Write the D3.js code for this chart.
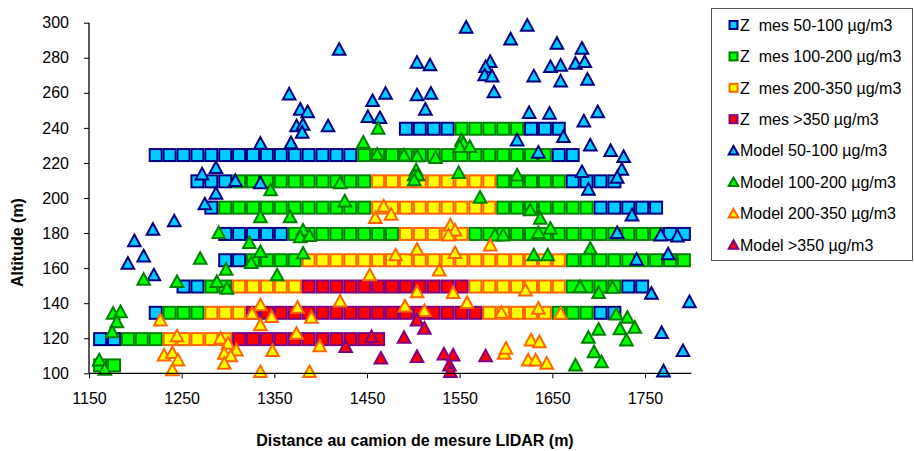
<!DOCTYPE html>
<html><head><meta charset="utf-8">
<script src="https://cdn.jsdelivr.net/npm/d3@7/dist/d3.min.js"></script>
<style>
html,body{margin:0;padding:0;background:#fff;}
svg{display:block;font-family:"Liberation Sans",Arial,sans-serif;}
text{white-space:pre;}
</style></head>
<body><svg id="c" width="914" height="451"></svg>
<script>
// ---- data ----
const xTicks = [1150,1250,1350,1450,1550,1650,1750];
const yTicks = [100,120,140,160,180,200,220,240,260,280,300];

// Measured LIDAR cells [distance, altitude]
const mes50_100 = [
 [1492,239.5],[1507,239.5],[1522,239.5],[1537,239.5],[1627,239.5],[1642,239.5],[1657,239.5],
 [1222,224.5],[1237,224.5],[1252,224.5],[1267,224.5],[1282,224.5],[1297,224.5],[1312,224.5],[1327,224.5],[1342,224.5],[1357,224.5],[1372,224.5],[1387,224.5],[1402,224.5],[1417,224.5],[1432,224.5],[1657,224.5],[1672,224.5],
 [1267,209.5],[1282,209.5],[1297,209.5],[1672,209.5],[1687,209.5],[1702,209.5],[1717,209.5],
 [1282,194.5],[1702,194.5],[1717,194.5],[1732,194.5],[1747,194.5],[1762,194.5],
 [1297,179.5],[1312,179.5],[1327,179.5],[1342,179.5],[1357,179.5],[1777,179.5],[1792,179.5],
 [1297,164.5],[1312,164.5],
 [1252,149.5],[1267,149.5],[1732,149.5],[1747,149.5],
 [1222,134.5],[1702,134.5],[1717,134.5],
 [1162,119.5],[1177,119.5]
];
const mes100_200 = [
 [1552,239.5],[1567,239.5],[1582,239.5],[1597,239.5],[1612,239.5],
 [1447,224.5],[1462,224.5],[1477,224.5],[1492,224.5],[1507,224.5],[1522,224.5],[1537,224.5],[1552,224.5],[1567,224.5],[1582,224.5],[1597,224.5],[1612,224.5],[1627,224.5],[1642,224.5],
 [1312,209.5],[1327,209.5],[1342,209.5],[1357,209.5],[1372,209.5],[1387,209.5],[1402,209.5],[1417,209.5],[1432,209.5],[1447,209.5],[1597,209.5],[1612,209.5],[1627,209.5],[1642,209.5],[1657,209.5],
 [1297,194.5],[1312,194.5],[1327,194.5],[1342,194.5],[1357,194.5],[1372,194.5],[1387,194.5],[1402,194.5],[1417,194.5],[1432,194.5],[1447,194.5],[1597,194.5],[1612,194.5],[1627,194.5],[1642,194.5],[1657,194.5],[1672,194.5],[1687,194.5],
 [1372,179.5],[1387,179.5],[1402,179.5],[1417,179.5],[1432,179.5],[1447,179.5],[1462,179.5],[1477,179.5],[1567,179.5],[1582,179.5],[1597,179.5],[1612,179.5],[1627,179.5],[1642,179.5],[1657,179.5],[1672,179.5],[1687,179.5],[1702,179.5],[1717,179.5],[1732,179.5],[1747,179.5],[1762,179.5],
 [1327,164.5],[1342,164.5],[1357,164.5],[1372,164.5],[1672,164.5],[1687,164.5],[1702,164.5],[1717,164.5],[1732,164.5],[1747,164.5],[1762,164.5],[1777,164.5],[1792,164.5],
 [1282,149.5],[1297,149.5],[1672,149.5],[1687,149.5],[1702,149.5],[1717,149.5],
 [1237,134.5],[1252,134.5],[1267,134.5],[1657,134.5],[1672,134.5],[1687,134.5],
 [1192,119.5],[1207,119.5],[1222,119.5],
 [1162,104.5],[1177,104.5]
];
const mes200_350 = [
 [1462,209.5],[1477,209.5],[1492,209.5],[1507,209.5],[1522,209.5],[1537,209.5],[1552,209.5],[1567,209.5],[1582,209.5],
 [1462,194.5],[1477,194.5],[1492,194.5],[1507,194.5],[1522,194.5],[1537,194.5],[1552,194.5],[1567,194.5],[1582,194.5],
 [1492,179.5],[1507,179.5],[1522,179.5],[1537,179.5],[1552,179.5],
 [1387,164.5],[1402,164.5],[1417,164.5],[1432,164.5],[1447,164.5],[1462,164.5],[1477,164.5],[1492,164.5],[1507,164.5],[1522,164.5],[1537,164.5],[1552,164.5],[1567,164.5],[1582,164.5],[1597,164.5],[1612,164.5],[1627,164.5],[1642,164.5],[1657,164.5],
 [1312,149.5],[1327,149.5],[1342,149.5],[1357,149.5],[1372,149.5],[1567,149.5],[1582,149.5],[1597,149.5],[1612,149.5],[1627,149.5],[1642,149.5],[1657,149.5],
 [1282,134.5],[1297,134.5],[1312,134.5],[1582,134.5],[1597,134.5],[1612,134.5],[1627,134.5],[1642,134.5],
 [1237,119.5],[1252,119.5],[1267,119.5],[1282,119.5],[1297,119.5]
];
const mesOver350 = [
 [1387,149.5],[1402,149.5],[1417,149.5],[1432,149.5],[1447,149.5],[1462,149.5],[1477,149.5],[1492,149.5],[1507,149.5],[1522,149.5],[1537,149.5],[1552,149.5],
 [1327,134.5],[1342,134.5],[1357,134.5],[1372,134.5],[1387,134.5],[1402,134.5],[1417,134.5],[1432,134.5],[1447,134.5],[1462,134.5],[1477,134.5],[1492,134.5],[1507,134.5],[1522,134.5],[1537,134.5],[1552,134.5],[1567,134.5],
 [1312,119.5],[1327,119.5],[1342,119.5],[1357,119.5],[1372,119.5],[1387,119.5],[1402,119.5],[1417,119.5],[1432,119.5],[1447,119.5],[1462,119.5]
];

// Model points [distance, altitude]
const mod50_100 = [
 [1557,297.4],[1623,298.5],[1605,290.7],[1420,284.8],[1655,288.2],[1682,285.4],[1504,277.4],[1518,275.9],[1583,277.8],[1578,274.9],
 [1577,270.2],[1585,269.6],[1630,269.6],[1648,274.9],[1659,275.7],[1675,276.8],[1685,277.8],[1659,266.7],[1688,267.7],[1587,260.5],
 [1366,259.3],[1378,250.6],[1386,249.2],[1374,241.1],[1381,242],[1380,237.5],[1408,241.1],[1335,231.2],[1368,231.5],[1456,255.5],
 [1470,259.7],[1451,246.4],[1464,245.8],[1287,217.3],[1272,213.7],[1308,209.9],[1335,208.7],[1287,202.7],[1275,196.6],[1242,186.9],
 [1219,182.1],[1199,175.6],[1192,162.7],[1209,166.9],[1220,156.1],
 [1504,258.8],[1519,259.7],[1513,250.6],[1625,248.7],[1647,248.3],[1684,243.9],[1699,249.2],[1662,235],[1612,233.1],[1691,230.2],
 [1713,227],[1727,223.6],[1635,226.1],[1725,216.4],[1682,215],[1720,211.8],[1689,205],[1736,190.3],[1720,180.2],[1767,178.9],
 [1785,178.3],[1741,165],[1775,168.1],[1757,145.6],[1798,140.8],[1768,123.2],[1791,112.9],[1770,101.3]
];
const mod100_200 = [
 [1462,239.8],[1446,231.8],[1461,224.9],[1346,204.6],[1421,208.7],[1426,198.3],[1335,189.3],[1367,189.3],[1290,180.2],[1381,181.7],
 [1378,177.9],[1388,178.5],[1209,153.6],[1245,152.3],[1176,134.2],[1184,135.1],[1180,129.4],[1175,123.7],[1161,107.6],[1167,102.3],
 [1270,165.6],[1323,174.5],[1335,169.4],[1325,163.1],[1381,168.5],[1298,159.3],[1353,156.1],[1288,152.3],[1299,148.5],
 [1552,233.1],[1554,231.5],[1550,229.3],[1561,229.3],[1490,224.5],[1504,224],[1524,223],[1503,216],[1501,213.2],[1505,213.2],
 [1501,210.3],[1549,214.5],[1612,213.1],[1572,200.4],[1626,193.2],[1637,188.4],[1648,182.7],[1635,180.2],
 [1588,178.9],[1597,178.9],[1630,167.5],[1645,167.5],[1691,171.3],[1680,149.4],[1700,146],[1715,149],[1719,133.7],[1731,131.9],
 [1739,126.2],[1723,125.4],[1700,125.1],[1689,120.5],[1730,119],[1675,104.7],[1695,112.3],[1703,106.6]
];
const mod200_350 = [
 [1468,195.4],[1459,188.8],[1476,190.7],[1540,184.6],[1545,181.7],[1538,178.9],
 [1481,167.5],[1453,156.1],[1421,141.2],[1335,139],[1326,134.2],[1347,132.3],[1335,127.6],[1375,137.6],[1390,131.9],[1292,120],
 [1300,117.1],[1309,113.3],[1374,122.8],[1399,115.6],[1348,112.9],[1296,111.4],[1303,109.9],[1296,105.7],[1335,100.9],[1388,100.9],
 [1227,130.4],[1245,121.3],[1231,110.4],[1240,111.8],[1246,107.6],[1240,101.9],
 [1583,173.2],[1504,170.7],[1545,168.8],[1528,158.9],[1504,146.5],[1543,146],[1621,147.5],[1491,138.4],[1512,135.7],[1558,140.3],
 [1595,134.6],[1635,137.1],[1659,134.2],[1598,111.4],[1600,114.3],[1627,119],[1636,118],[1624,107.6],[1632,107.6],[1644,105.7]
];
const modOver350 = [
 [1455,120.9],[1427,115.2],[1465,108.6],[1504,130.4],[1512,125.7],[1490,120.5],[1504,109.5],[1533,111],[1543,110.4],[1539,104.7],
 [1540,100.9],[1578,109.9]
];

const seriesNames = ["Z  mes 50-100 µg/m3","Z  mes 100-200 µg/m3","Z  mes 200-350 µg/m3","Z  mes >350 µg/m3",
 "Model 50-100 µg/m3","Model 100-200 µg/m3","Model 200-350 µg/m3","Model >350 µg/m3"];
const fills = ["#00CCFF","#00FF00","#FFFF00","#FF0000"];
const strokes = ["#000080","#008000","#FF6600","#800080"];

// ---- chart ----
const svg = d3.select("#c");
const x = d3.scaleLinear().domain([1150,1800]).range([89,691.3]);
const y = d3.scaleLinear().domain([100,300]).range([373.3,22.7]);

const squares = [mes50_100, mes100_200, mes200_350, mesOver350];
const tris = [mod50_100, mod100_200, mod200_350, modOver350];
const triPath = "M0,-6.2L6.3,5.4L-6.3,5.4Z";

squares.forEach((data,i)=>{
  svg.append("g").selectAll("rect").data(data).join("rect")
    .attr("x", d=>x(d[0])-6).attr("y", d=>y(d[1])-6)
    .attr("width",12).attr("height",12)
    .attr("fill",fills[i]).attr("stroke",strokes[i]).attr("stroke-width",2);
});
tris.forEach((data,i)=>{
  svg.append("g").selectAll("path").data(data).join("path")
    .attr("d",triPath)
    .attr("transform", d=>`translate(${x(d[0])},${y(d[1])})`)
    .attr("fill",fills[i]).attr("stroke",strokes[i]).attr("stroke-width",2).attr("stroke-linejoin","miter");
});

// axes
const xAxis = svg.append("g").attr("transform","translate(0,373.3)")
  .call(d3.axisBottom(x).tickValues(xTicks).tickFormat(d3.format("d")).tickSize(5).tickPadding(14));
const yAxis = svg.append("g").attr("transform","translate(89,0)")
  .call(d3.axisLeft(y).tickValues(yTicks).tickFormat(d3.format("d")).tickSize(5).tickPadding(15));
[xAxis,yAxis].forEach(a=>{
  a.select(".domain").attr("stroke","#000").attr("stroke-width",1.3);
  a.selectAll(".tick line").attr("stroke","#000").attr("stroke-width",1);
  a.selectAll("text").attr("font-family","'Liberation Sans',Arial,sans-serif").attr("font-size",16).attr("fill","#000");
});
xAxis.select(".domain").attr("d","M89,0H691.3");
yAxis.select(".domain").attr("d","M0,22.7V373.3");

svg.append("text").attr("x",415).attr("y",446).attr("text-anchor","middle")
  .attr("font-size",16).attr("font-weight","bold").text("Distance au camion de mesure LIDAR (m)");
svg.append("text").attr("transform","translate(22.5,242.5) rotate(-90)").attr("text-anchor","middle")
  .attr("font-size",16).attr("font-weight","bold").text("Altitude (m)");

// legend
const lg = svg.append("g");
lg.append("rect").attr("x",711.5).attr("y",8.5).attr("width",201).attr("height",252)
  .attr("fill","#fff").attr("stroke","#555").attr("stroke-width",1);
seriesNames.forEach((name,i)=>{
  const cy = 25 + i*31.4;
  const c = i%4;
  if(i<4){
    lg.append("rect").attr("x",729.5).attr("y",cy-4).attr("width",8).attr("height",8)
      .attr("fill",fills[c]).attr("stroke",strokes[c]).attr("stroke-width",2);
  } else {
    lg.append("path").attr("d","M0,-4.5L4.8,4L-4.8,4Z").attr("transform",`translate(733.5,${cy})`)
      .attr("fill",fills[c]).attr("stroke",strokes[c]).attr("stroke-width",2);
  }
  lg.append("text").attr("x",740).attr("y",cy+5.8).attr("font-size",16).attr("fill","#000").text(name);
});
</script></body></html>
